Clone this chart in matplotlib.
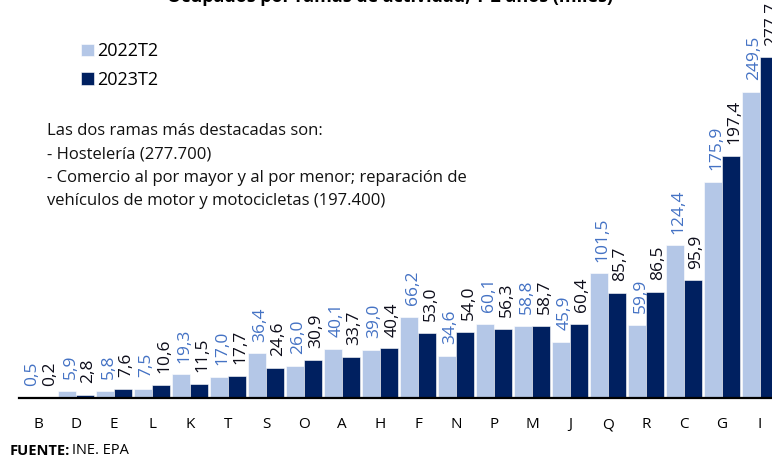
import matplotlib
matplotlib.use("Agg")
import matplotlib.pyplot as plt
import numpy as np

plt.rcParams['font.family'] = ['Open Sans', 'DejaVu Sans']

categories = ["B", "D", "E", "L", "K", "T", "S", "O", "A", "H", "F", "N", "P", "M", "J", "Q", "R", "C", "G", "I"]
v2022 = [0.5, 5.9, 5.8, 7.5, 19.3, 17.0, 36.4, 26.0, 40.1, 39.0, 66.2, 34.6, 60.1, 58.8, 45.9, 101.5, 59.9, 124.4, 175.9, 249.5]
v2023 = [0.2, 2.8, 7.6, 10.6, 11.5, 17.7, 24.6, 30.9, 33.7, 40.4, 53.0, 54.0, 56.3, 58.7, 60.4, 85.7, 86.5, 95.9, 197.4, 277.7]
series_names = ["2022T2", "2023T2"]
title = "Ocupados por ramas de actividad, T-2 años (miles)"
note = ("Las dos ramas más destacadas son:\n"
        "- Hostelería (277.700)\n"
        "- Comercio al por mayor y al por menor; reparación de\n"
        "vehículos de motor y motocicletas (197.400)")

c_light = "#b4c7e7"
c_dark = "#002060"
c_lab_light = "#4472c4"
c_lab_dark = "#0d0d1a"

W, H = 772, 457
fig = plt.figure(figsize=(W / 100, H / 100), dpi=100)
ax = fig.add_axes([19 / W, 59 / H, 760 / W, 368 / H])

x = np.arange(len(categories))
bw = 0.47
b1 = ax.bar(x - bw / 2, v2022, width=bw, color=c_light, edgecolor="white", linewidth=0.4, label=series_names[0])
b2 = ax.bar(x + bw / 2, v2023, width=bw, color=c_dark, edgecolor="white", linewidth=0.4, label=series_names[1])

def fmt(v):
    return f"{v:.1f}".replace(".", ",")

for xi, v in zip(x, v2022):
    ax.annotate(fmt(v), (xi - bw / 2, v), xytext=(2.5, 8.5), textcoords="offset points",
                rotation=90, ha="center", va="bottom", fontsize=12.5, color=c_lab_light,
                annotation_clip=False)
for xi, v in zip(x, v2023):
    ax.annotate(fmt(v), (xi + bw / 2, v), xytext=(2.5, 8.5), textcoords="offset points",
                rotation=90, ha="center", va="bottom", fontsize=12.5, color=c_lab_dark,
                annotation_clip=False)

ax.set_xlim(-0.5, len(categories) - 0.5)
ax.set_ylim(0, 300)
ax.set_xticks(x)
ax.set_xticklabels(categories, fontsize=11)
ax.tick_params(axis="x", length=0, pad=14)
ax.set_yticks([])
for s in ["left", "right", "top"]:
    ax.spines[s].set_visible(False)
ax.spines["bottom"].set_color("black")
ax.spines["bottom"].set_linewidth(1.6)
ax.patch.set_alpha(0)

# legend
leg = fig.legend(handles=[b1, b2], labels=series_names, loc="upper left",
                 bbox_to_anchor=(65 / W, 1 - 26 / H), frameon=False, fontsize=13,
                 handlelength=0.7, handleheight=0.7, handletextpad=0.2, labelspacing=0.6)

fig.text(47 / W, 1 - 123 / H, note, ha="left", va="top", fontsize=12,
         linespacing=1.62, color="#111111")

fig.text(0.505, 1 + 3 / H, title, ha="center", va="center", fontsize=13, fontweight="bold")

fig.text(10 / W, 1 - 451 / H, "FUENTE:", ha="left", va="center", fontsize=10.5, fontweight="bold")
fig.text(72 / W, 1 - 451 / H, "INE. EPA", ha="left", va="center", fontsize=10.5)

fig.savefig("out.png", dpi=100)
